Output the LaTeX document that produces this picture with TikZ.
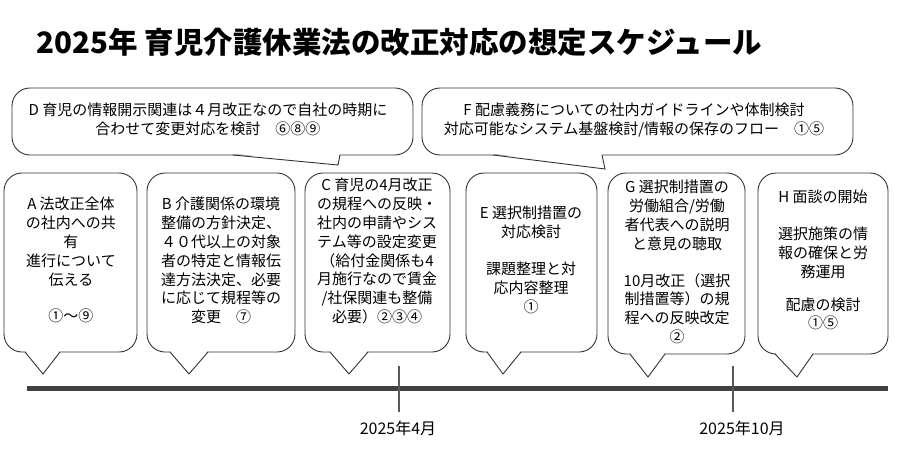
\documentclass[tikz,border=0pt]{standalone}
\usepackage{fontspec}
\setmainfont{Noto Sans CJK JP}
\begin{document}
\begin{tikzpicture}[x=1pt,y=-1pt,
  bubble/.style={draw=black!80,line width=0.9pt,rounded corners=18pt,fill=white},
  txt/.style={anchor=north,align=center,inner sep=0pt,font=\fontsize{15}{18.8}\selectfont},
  lbl/.style={font=\fontsize{16}{18}\selectfont},
  tl/.style={draw=black!75,line width=5pt}]
\useasboundingbox (0,0) rectangle (898,458);
\node[anchor=west,font=\fontsize{29.5}{32}\bfseries\selectfont] (title) at (33,42) {2025年 育児介護休業法の改正対応の想定スケジュール};
\newcommand\callout[8]{% x1 y1 x2 y2 ta tb tipx tipy
  \draw[bubble] (#1,#2) rectangle (#3,#4);
  \fill[white] (#5,#4-1.5) -- (#7,#8) -- (#6,#4-1.5) -- cycle;
  \draw[black!80,line width=0.9pt,line join=miter] (#5,#4) -- (#7,#8) -- (#6,#4);}
% timeline
\coordinate (tl0) at (27,388); \coordinate (tl1) at (888,388);
\coordinate (apr) at (399,388); \coordinate (oct) at (733,388);
\draw[tl] (tl0) -- (tl1);
\draw[black!65,line width=1.2pt] ([yshift=-24]apr) -- ([yshift=22]apr);
\draw[black!65,line width=1.2pt] ([yshift=-24]oct) -- ([yshift=22]oct);
\node[lbl] (l1) at (398,428) {2025年4月};
\node[lbl] (l2) at (742,428) {2025年10月};
% top callouts
\callout{12}{88}{413}{155}{233}{340}{338}{165}
\callout{422}{88}{853}{155}{493}{602}{605}{169}
\node[txt] (D) at (208,103) {D 育児の情報開示関連は４月改正なので自社の時期に\\合わせて変更対応を検討　⑥⑧⑨};
\node[txt] (F) at (634,103) {F 配慮義務についての社内ガイドラインや体制検討\\対応可能なシステム基盤検討/情報の保存のフロー　①⑤};
% bottom callouts
\callout{4}{173}{137}{352}{25}{60}{43}{374}
\callout{147}{173}{295}{352}{170}{208}{189}{374}
\callout{305}{173}{450}{352}{330}{368}{349}{374}
\callout{466}{173}{597}{352}{487}{521}{503}{374}
\callout{608}{173}{745}{354}{630}{665}{648}{377}
\callout{758}{173}{888}{354}{775}{813}{797}{377}
\node[txt] (A) at (71,197) {A 法改正全体\\の社内への共\\有\\進行について\\伝える\\[18pt]①〜⑨};
\node[txt] (B) at (221,197) {B 介護関係の環境\\整備の方針決定、\\４０代以上の対象\\者の特定と情報伝\\達方法決定、必要\\に応じて規程等の\\変更　⑦};
\node[txt] (C) at (377,178) {C 育児の4月改正\\の規程への反映・\\社内の申請やシス\\テム等の設定変更\\（給付金関係も4\\月施行なので賃金\\/社保関連も整備\\必要）②③④};
\node[txt] (E) at (531,206) {E 選択制措置の\\対応検討\\[18pt]課題整理と対\\応内容整理\\①};
\node[txt] (G) at (677,180) {G 選択制措置の\\労働組合/労働\\者代表への説明\\と意見の聴取\\[18pt]10月改正（選択\\制措置等）の規\\程への反映改定\\②};
\node[txt] (H) at (823,190) {H 面談の開始\\[18pt]選択施策の情\\報の確保と労\\務運用\\[14pt]配慮の検討\\①⑤};
\end{tikzpicture}
\end{document}
